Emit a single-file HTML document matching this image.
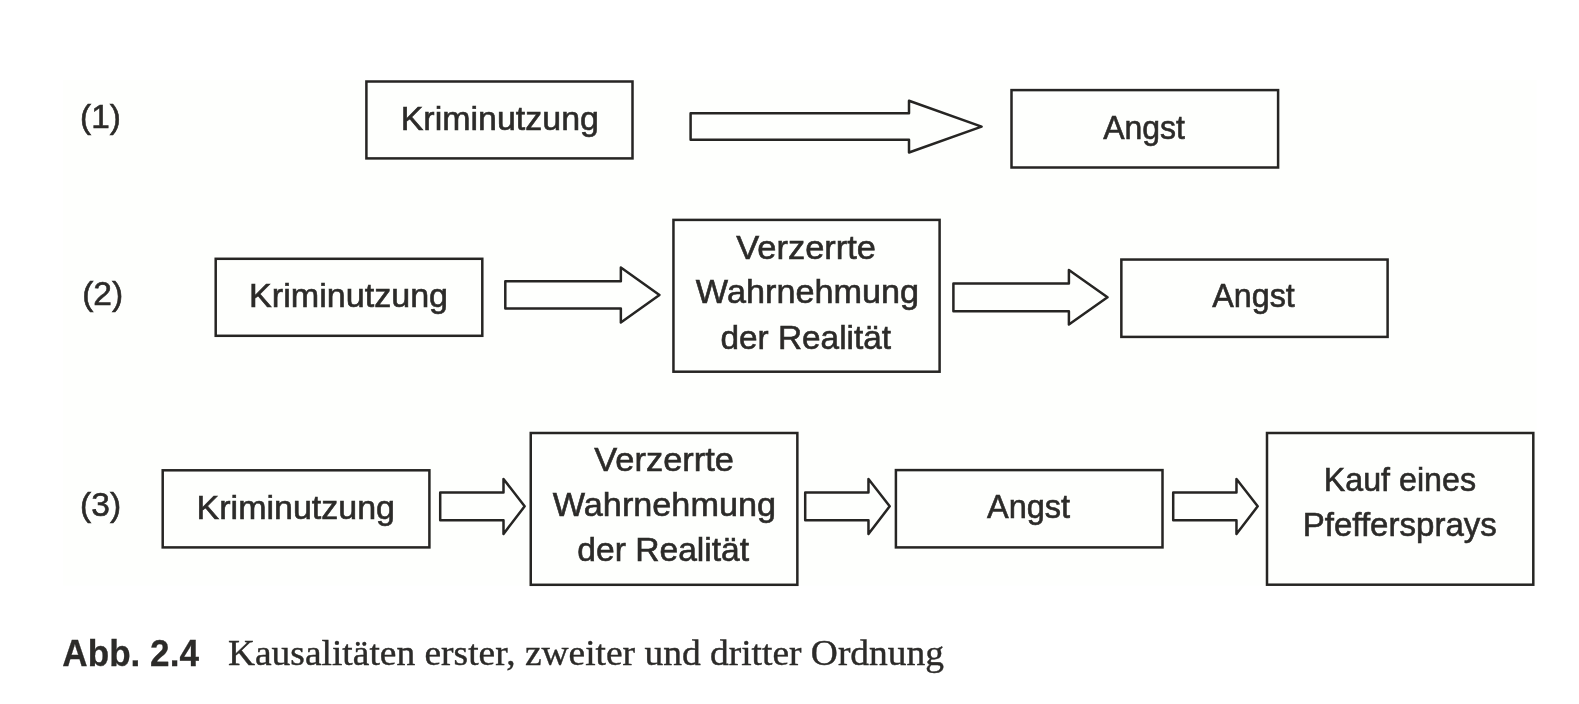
<!DOCTYPE html><html><head><meta charset="utf-8"><style>html,body{margin:0;padding:0;background:#fff;overflow:hidden}svg{display:block;will-change:transform}</style></head><body>
<svg width="1579" height="704" viewBox="0 0 1579 704">
<rect x="63" y="80" width="1473.5" height="505.5" fill="#fefffd"/>
<g fill="none" stroke="#262523" stroke-width="2.5" stroke-linejoin="miter">
<rect x="366.40" y="81.50" width="266.10" height="76.90"/>
<rect x="1011.50" y="90.10" width="266.60" height="77.40"/>
<rect x="215.70" y="258.80" width="266.60" height="77.00"/>
<rect x="673.45" y="219.90" width="266.15" height="151.80"/>
<rect x="1121.35" y="259.55" width="266.25" height="77.35"/>
<rect x="162.70" y="470.30" width="266.70" height="77.10"/>
<rect x="530.75" y="433.00" width="266.60" height="151.80"/>
<rect x="895.90" y="470.10" width="266.60" height="77.30"/>
<rect x="1267.00" y="433.00" width="266.30" height="151.70"/>
</g>
<g fill="none" stroke="#262523" stroke-width="2.5" stroke-linejoin="round">
<path d="M690.6 113.35H909.0V100.7L981.6 126.6L909.0 152.45V139.65H690.6Z"/>
<path d="M505.3 281.3H620.85V267.45L659.45 294.9L620.85 322.45V308.6H505.3Z"/>
<path d="M953.4 283.5H1068.9V270.0L1107.5 297.3L1068.9 324.45V311.2H953.4Z"/>
<path d="M440.2 492.6H503.5V479.0L524.65 506.3L503.5 533.9V520.3H440.2Z"/>
<path d="M805.2 492.6H868.47V479.0L889.7 506.3L868.47 533.9V520.3H805.2Z"/>
<path d="M1173.2 492.6H1236.47V479.0L1257.7 506.3L1236.47 533.9V520.3H1173.2Z"/>
</g>
<g fill="#2c2b29" stroke="#2c2b29">
<text transform="translate(80.10 128.35) scale(0.9952 1)" font-family="'Liberation Sans', sans-serif" font-size="33.5" font-weight="normal" stroke-width="0.6">(1)</text>
<text transform="translate(400.70 129.60) scale(1.0144 1)" font-family="'Liberation Sans', sans-serif" font-size="33.5" font-weight="normal" stroke-width="0.6">Kriminutzung</text>
<text transform="translate(1103.19 138.50) scale(0.9553 1)" font-family="'Liberation Sans', sans-serif" font-size="33.5" font-weight="normal" stroke-width="0.6">Angst</text>
<text transform="translate(82.19 305.45) scale(1.0006 1)" font-family="'Liberation Sans', sans-serif" font-size="33.5" font-weight="normal" stroke-width="0.6">(2)</text>
<text transform="translate(249.10 306.65) scale(1.0180 1)" font-family="'Liberation Sans', sans-serif" font-size="33.5" font-weight="normal" stroke-width="0.6">Kriminutzung</text>
<text transform="translate(736.27 259.40) scale(1.0276 1)" font-family="'Liberation Sans', sans-serif" font-size="33.5" font-weight="normal" stroke-width="0.6">Verzerrte</text>
<text transform="translate(695.87 303.35) scale(1.0222 1)" font-family="'Liberation Sans', sans-serif" font-size="33.5" font-weight="normal" stroke-width="0.6">Wahrnehmung</text>
<text transform="translate(720.48 348.50) scale(0.9959 1)" font-family="'Liberation Sans', sans-serif" font-size="33.5" font-weight="normal" stroke-width="0.6">der Realität</text>
<text transform="translate(1212.32 307.30) scale(0.9637 1)" font-family="'Liberation Sans', sans-serif" font-size="33.5" font-weight="normal" stroke-width="0.6">Angst</text>
<text transform="translate(80.09 516.30) scale(1.0006 1)" font-family="'Liberation Sans', sans-serif" font-size="33.5" font-weight="normal" stroke-width="0.6">(3)</text>
<text transform="translate(196.60 518.50) scale(1.0149 1)" font-family="'Liberation Sans', sans-serif" font-size="33.5" font-weight="normal" stroke-width="0.6">Kriminutzung</text>
<text transform="translate(594.27 471.35) scale(1.0284 1)" font-family="'Liberation Sans', sans-serif" font-size="33.5" font-weight="normal" stroke-width="0.6">Verzerrte</text>
<text transform="translate(552.77 516.35) scale(1.0222 1)" font-family="'Liberation Sans', sans-serif" font-size="33.5" font-weight="normal" stroke-width="0.6">Wahrnehmung</text>
<text transform="translate(577.27 561.30) scale(1.0035 1)" font-family="'Liberation Sans', sans-serif" font-size="33.5" font-weight="normal" stroke-width="0.6">der Realität</text>
<text transform="translate(986.99 518.35) scale(0.9710 1)" font-family="'Liberation Sans', sans-serif" font-size="33.5" font-weight="normal" stroke-width="0.6">Angst</text>
<text transform="translate(1323.72 490.50) scale(0.9623 1)" font-family="'Liberation Sans', sans-serif" font-size="33.5" font-weight="normal" stroke-width="0.6">Kauf eines</text>
<text transform="translate(1302.75 535.50) scale(0.9867 1)" font-family="'Liberation Sans', sans-serif" font-size="33.5" font-weight="normal" stroke-width="0.6">Pfeffersprays</text>
<text transform="translate(62.35 665.60) scale(0.9556 1)" font-family="'Liberation Sans', sans-serif" font-size="36.75" font-weight="bold" stroke-width="0.3">Abb. 2.4</text>
<text transform="translate(227.95 665.40) scale(1.0266 1)" font-family="'Liberation Serif', serif" font-size="36.5" font-weight="normal" stroke-width="0.4">Kausalitäten erster, zweiter und dritter Ordnung</text>
</g>
</svg></body></html>
